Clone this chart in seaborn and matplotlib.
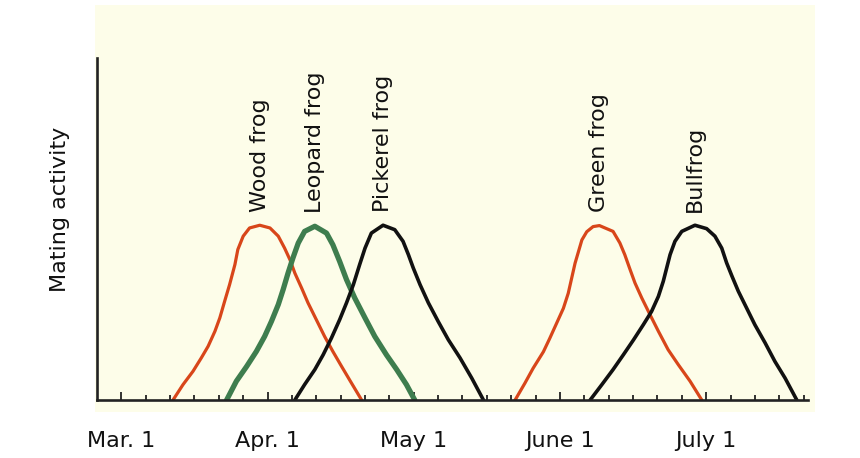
import numpy as np
import pandas as pd
import matplotlib
matplotlib.use("Agg")
import matplotlib.pyplot as plt
from matplotlib.patches import Rectangle
import seaborn as sns

# days counted from Mar. 1 (months drawn as 30 days), activity 0..1
wood_day = [10.6, 12.65, 14.7, 16.4, 17.8, 19.2, 20.2, 21.2, 22.2, 23.3, 23.9, 25.0, 26.3, 28.4,
            30.5, 32.2, 33.5, 34.6, 35.6, 37.0, 38.3, 40.0, 41.7, 43.4, 45.2, 47.2, 49.3]
wood_act = [0.0, 0.045, 0.084, 0.123, 0.157, 0.201, 0.240, 0.289, 0.337, 0.396, 0.440, 0.479, 0.503, 0.511,
            0.503, 0.479, 0.444, 0.410, 0.371, 0.327, 0.284, 0.235, 0.186, 0.142, 0.098, 0.050, 0.0]

leopard_day = [21.6, 23.6, 25.7, 27.7, 29.4, 30.8, 32.2, 33.2, 34.2, 35.2, 36.3, 37.6, 39.7,
               42.1, 43.4, 44.8, 46.2, 47.9, 50.0, 52.0, 54.4, 56.5, 58.5, 60.2]
leopard_act = [0.0, 0.055, 0.098, 0.142, 0.186, 0.230, 0.279, 0.323, 0.371, 0.415, 0.459, 0.493, 0.508,
               0.488, 0.454, 0.405, 0.352, 0.298, 0.240, 0.186, 0.132, 0.089, 0.045, 0.0]

pickerel_day = [35.6, 37.6, 39.7, 41.4, 43.1, 44.8, 46.2, 47.6, 48.9, 50.0, 51.3, 53.7,
                56.1, 57.8, 58.9, 59.9, 61.3, 63.0, 65.0, 67.1, 69.5, 71.9, 74.3]
pickerel_act = [0.0, 0.045, 0.089, 0.132, 0.181, 0.235, 0.284, 0.337, 0.396, 0.444, 0.488, 0.511,
                0.498, 0.464, 0.425, 0.386, 0.337, 0.284, 0.230, 0.176, 0.123, 0.064, 0.0]

green_day = [80.8, 82.8, 84.5, 86.6, 87.9, 89.3, 90.7, 91.7, 92.4, 93.1, 93.8, 94.5, 95.5, 96.8, 98.1,
             100.9, 102.3, 103.3, 104.4, 105.4, 106.8, 108.5, 110.2, 112.2, 114.3, 116.7, 119.1]
green_act = [0.0, 0.049, 0.093, 0.141, 0.180, 0.224, 0.268, 0.312, 0.356, 0.400, 0.434, 0.468, 0.492, 0.507, 0.510,
             0.493, 0.459, 0.425, 0.381, 0.342, 0.298, 0.249, 0.201, 0.147, 0.103, 0.055, 0.0]

bull_day = [96.2, 98.6, 100.9, 103.0, 105.1, 107.1, 108.8, 110.2, 111.2, 111.9, 112.6, 113.6, 115.0, 117.7,
            120.1, 121.8, 123.2, 124.2, 125.3, 126.6, 128.3, 130.0, 132.1, 134.1, 136.2, 138.6]
bull_act = [0.0, 0.045, 0.089, 0.132, 0.176, 0.220, 0.259, 0.303, 0.347, 0.386, 0.425, 0.464, 0.493, 0.511,
            0.501, 0.479, 0.444, 0.401, 0.362, 0.318, 0.269, 0.220, 0.167, 0.113, 0.064, 0.0]

month_days = [0, 30, 60, 90, 120]
month_labels = ["Mar. 1", "Apr. 1", "May 1", "June 1", "July 1"]

sns.set_style("white")
plt.rcParams["font.family"] = ["DejaVu Sans"]

fig = plt.figure(figsize=(8.6, 4.58), dpi=100)
fig.patch.set_facecolor("white")
# cream panel behind the chart
fig.patches.append(Rectangle((95 / 860, 46 / 458), 720 / 860, 407 / 458,
                             transform=fig.transFigure, facecolor="#fdfde9",
                             edgecolor="none", zorder=-10))
ax = fig.add_axes([97 / 860, 58 / 458, 711 / 860, 342 / 458])
ax.set_zorder(5)
ax.set_facecolor("none")

curves = [
    ("Wood frog", wood_day, wood_act, "#d8461a", 2.3),
    ("Leopard frog", leopard_day, leopard_act, "#3e7d4e", 3.8),
    ("Pickerel frog", pickerel_day, pickerel_act, "#111111", 2.6),
    ("Green frog", green_day, green_act, "#d8461a", 2.3),
    ("Bullfrog", bull_day, bull_act, "#111111", 2.6),
]

for name, d, a, col, lw in curves:
    df = pd.DataFrame({"day": d, "activity": a})
    sns.lineplot(data=df, x="day", y="activity", color=col, linewidth=lw, ax=ax,
                 solid_joinstyle="round", solid_capstyle="round")
    peak = df.loc[df["activity"].idxmax()]
    ax.text(peak["day"], peak["activity"] + 0.04, name, rotation=90,
            ha="center", va="bottom", fontsize=16, color="#111111")

ax.set_xlim(-5, 140.9)
ax.set_ylim(0, 1)
ax.set_xticks(month_days)
ax.set_xticklabels(month_labels, fontsize=16, color="#111111")
ax.set_xticks(np.arange(0, 141, 5), minor=True)
ax.set_yticks([])
ax.tick_params(axis="x", which="both", bottom=True)
ax.tick_params(axis="x", which="major", direction="in", length=5.5, width=1.3,
               pad=22, color="#222222")
ax.tick_params(axis="x", which="minor", direction="in", length=3.5, width=1.3,
               color="#222222")
ax.set_xlabel("")
ax.set_ylabel("Mating activity", fontsize=16, color="#111111")
ax.yaxis.set_label_coords(-0.038, 0.558)

for s in ["top", "right"]:
    ax.spines[s].set_visible(False)
for s in ["left", "bottom"]:
    ax.spines[s].set_linewidth(1.9)
    ax.spines[s].set_color("#222222")

fig.savefig("out.png", dpi=100)
